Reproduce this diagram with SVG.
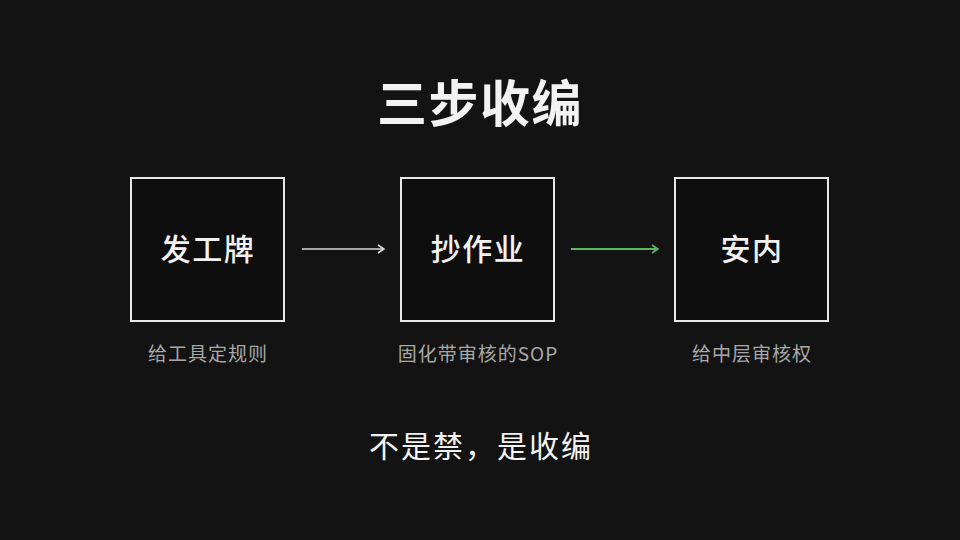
<svg xmlns="http://www.w3.org/2000/svg" width="960" height="540" viewBox="0 0 960 540">
<style>
.box{fill:#0e0e0e;stroke:#e8e8e8;stroke-width:2}
.t{font-family:"Noto Sans CJK SC","Noto Sans",sans-serif;fill:#f2f2f2;text-anchor:middle}
.node{font-size:30px;font-weight:500;letter-spacing:1.5px}
.sub{font-size:19px;fill:#a8a8a8;letter-spacing:1px}
.title{font-size:50px;font-weight:700;letter-spacing:1.5px}
.foot{font-size:30px;font-weight:400;letter-spacing:2px}
</style>
<defs>
<marker id="aw" viewBox="0 0 10 10" refX="9" refY="5" markerWidth="10" markerHeight="10" markerUnits="userSpaceOnUse" orient="auto"><path d="M3,1 L9,5 L3,9" fill="none" stroke="#d8d8d8" stroke-width="1.6"/></marker>
<marker id="ag" viewBox="0 0 10 10" refX="9" refY="5" markerWidth="10" markerHeight="10" markerUnits="userSpaceOnUse" orient="auto"><path d="M3,1 L9,5 L3,9" fill="none" stroke="#5cb865" stroke-width="1.6"/></marker>
</defs>
<rect width="960" height="540" fill="#131313"/>
<text class="t title" x="480" y="122">三步收编</text>
<g id="n1"><rect class="box" x="131" y="178" width="153" height="143"/><text class="t node" x="208" y="260">发工牌</text><text class="t sub" x="208" y="361">给工具定规则</text></g>
<g id="n2"><rect class="box" x="401" y="178" width="153" height="143"/><text class="t node" x="478" y="260">抄作业</text><text class="t sub" x="478" y="361">固化带审核的SOP</text></g>
<g id="n3"><rect class="box" x="675" y="178" width="153" height="143"/><text class="t node" x="752" y="260">安内</text><text class="t sub" x="752" y="361">给中层审核权</text></g>
<g id="connectors">
<line x1="302" y1="249" x2="384" y2="249" stroke="#d8d8d8" stroke-width="1.6" marker-end="url(#aw)"/>
<line x1="571" y1="249" x2="658" y2="249" stroke="#5cb865" stroke-width="1.8" marker-end="url(#ag)"/>
</g>
<text class="t foot" x="481" y="457">不是禁，是收编</text>
</svg>
